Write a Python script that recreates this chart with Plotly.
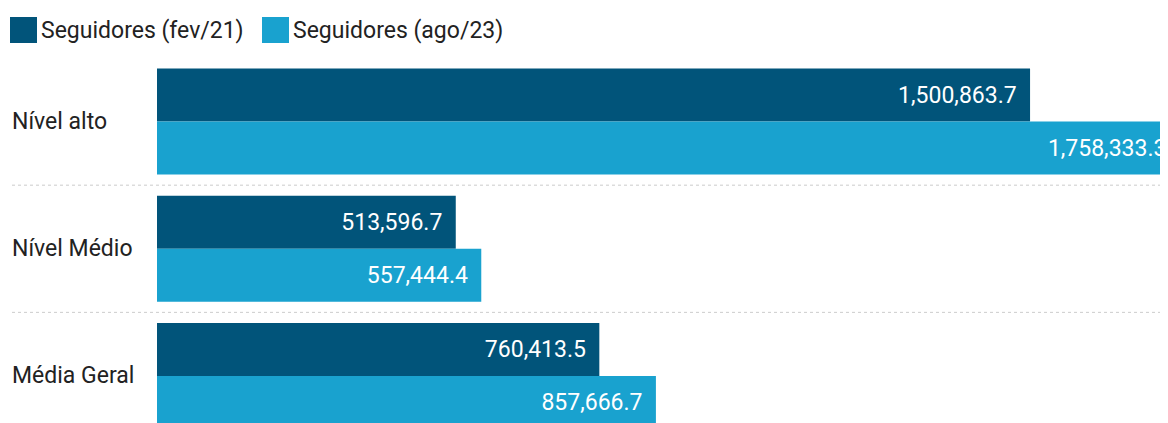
import plotly.graph_objects as go

categories = ["Nível alto", "Nível Médio", "Média Geral"]
series_names = ["Seguidores (fev/21)", "Seguidores (ago/23)"]
fev21 = [1500863.7, 513596.7, 760413.5]
ago23 = [1758333.3, 557444.4, 857666.7]
colors = ["#01547A", "#19A2CF"]

OFF = 8  # page body margin
W, H = 1168 - OFF, 423 - OFF
L, T = 157 - OFF, 58 - OFF
PW, PH = W - L, H - T

def px_x(s):
    return (s - OFF - L) / PW

def px_y(s):
    return (H - (s - OFF)) / PH

FS = 23

fig = go.Figure()
for name, vals, col in zip(series_names, [fev21, ago23], colors):
    fig.add_trace(go.Bar(
        y=categories, x=vals, name=name, orientation="h",
        marker=dict(color=col, line=dict(width=0)),
        text=[f"{v:,.1f}\u00a0\u2009" for v in vals],
        textposition="inside", insidetextanchor="end",
        textfont=dict(family="Roboto", size=FS, color="white"),
        constraintext="none", cliponaxis=True, showlegend=False,
    ))

shapes = []
annotations = []
for i in range(len(categories) - 1):
    shapes.append(dict(type="line", xref="paper", yref="y",
                       x0=px_x(12), x1=1.0, y0=i + 0.5, y1=i + 0.5,
                       line=dict(color="#cccccc", width=1, dash="dot")))
for c in categories:
    annotations.append(dict(xref="paper", yref="y", x=px_x(10), y=c,
                            text=c, showarrow=False, xanchor="left", yanchor="middle",
                            font=dict(family="Roboto", size=FS, color="#222222")))
leg_x = [10, 262]
for name, col, lx in zip(series_names, colors, leg_x):
    shapes.append(dict(type="rect", xref="paper", yref="paper",
                       x0=px_x(lx), x1=px_x(lx + 27), y0=px_y(43), y1=px_y(17),
                       fillcolor=col, line=dict(width=0)))
    annotations.append(dict(xref="paper", yref="paper", x=px_x(lx + 29), y=px_y(30),
                            text=name, showarrow=False, xanchor="left", yanchor="middle",
                            font=dict(family="Roboto", size=FS, color="#222222")))

fig.update_layout(
    width=W, height=H,
    margin=dict(l=L, r=0, t=T, b=0, pad=0),
    barmode="group", bargap=0.166, bargroupgap=0,
    plot_bgcolor="white", paper_bgcolor="white",
    xaxis=dict(range=[0, 1738000], showgrid=False, zeroline=False,
               showticklabels=False, ticks="", showline=False),
    yaxis=dict(range=[2.37, -0.5], showgrid=False, zeroline=False,
               showticklabels=False, ticks="", showline=False),
    shapes=shapes, annotations=annotations,
    font=dict(family="Roboto"),
)

fig.write_html("out.html")
